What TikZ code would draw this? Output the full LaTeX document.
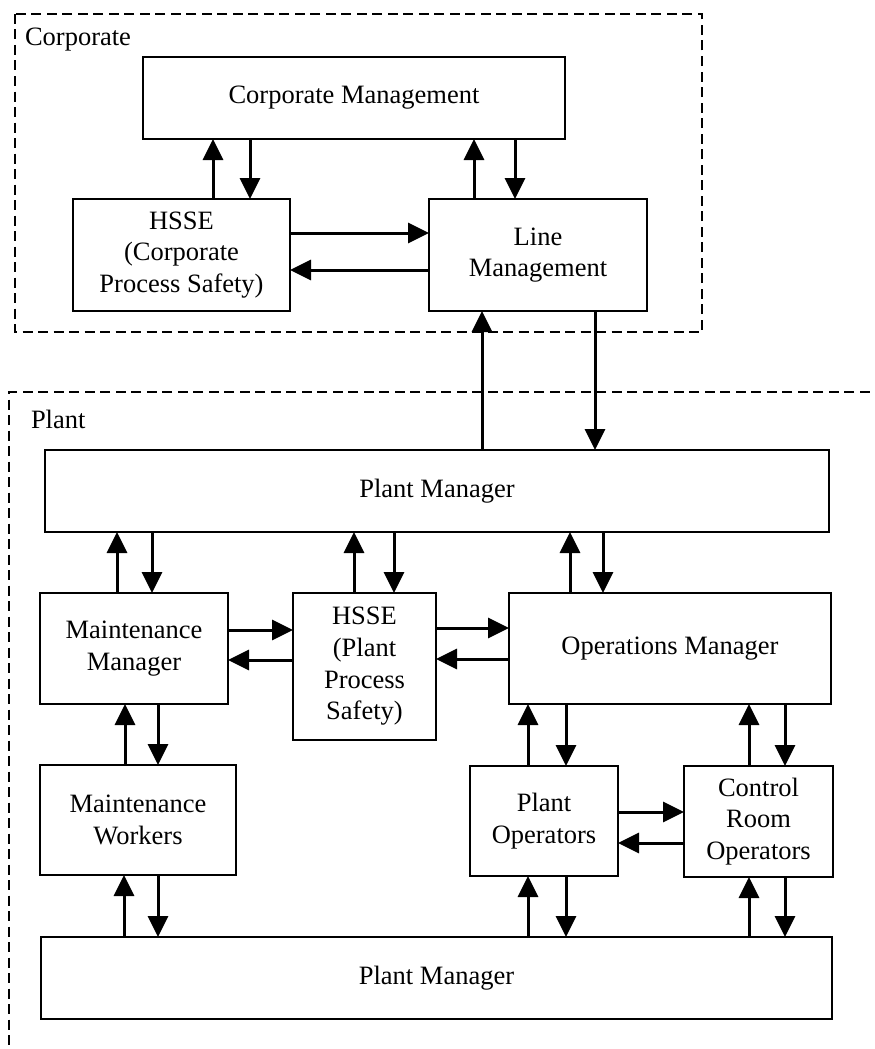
\documentclass[tikz,border=0pt]{standalone}
\usepackage{fontspec}
\setmainfont{Liberation Serif}
\usetikzlibrary{arrows.meta}
\begin{document}
\begin{tikzpicture}[x=1pt,y=-1pt,
  box/.style={draw, line width=2pt, rectangle, align=center, inner sep=0pt, outer sep=0pt,
    font=\fontsize{26.5}{31.7}\selectfont},
  lbl/.style={inner sep=0pt, outer sep=0pt, anchor=base west, font=\fontsize{26.5}{31.7}\selectfont},
  arr/.style={line width=3pt, -{Triangle[length=21pt,width=20pt]}},
  grp/.style={line width=1.7pt, dash pattern=on 10pt off 5.5pt}]
\useasboundingbox (0,0) rectangle (875,1049);
\clip (0,0) rectangle (875,1049);
% groups
\draw[grp] (15,14) rectangle (702,332);
\draw[grp] (885,392) -- (9,392) -- (9,1060);
\node[lbl] (corpl) at (25,46) {Corporate};
\node[lbl] (plantl) at (31,428) {Plant};
% boxes
\node[box, minimum width=422pt, minimum height=82pt] (cm) at (354,98) {Corporate Management};
\node[box, minimum width=217pt, minimum height=112pt] (hssec) at (181.5,255) {HSSE\\(Corporate\\Process Safety)};
\node[box, minimum width=218pt, minimum height=112pt] (lm) at (538,255) {Line\\Management};
\node[box, minimum width=784pt, minimum height=82pt] (pmt) at (437,491) {Plant Manager};
\node[box, minimum width=188pt, minimum height=111pt] (mm) at (134,648.5) {Maintenance\\Manager};
\node[box, minimum width=143pt, minimum height=147pt] (hssep) at (364.5,666.5) {HSSE\\(Plant\\Process\\Safety)};
\node[box, minimum width=322pt, minimum height=111pt] (om) at (670,648.5) {Operations Manager};
\node[box, minimum width=196pt, minimum height=110pt] (mw) at (138,820) {Maintenance\\Workers};
\node[box, minimum width=148pt, minimum height=110pt] (po) at (544,821) {Plant\\Operators};
\node[box, minimum width=149pt, minimum height=111pt] (cro) at (758.5,821.5) {Control\\Room\\Operators};
\node[box, minimum width=791pt, minimum height=82pt] (pmb) at (436.5,978) {Plant Manager};
% corporate arrows
\draw[arr] (hssec.north -| 213,0) -- (cm.south -| 213,0);
\draw[arr] (cm.south -| 250,0) -- (hssec.north -| 250,0);
\draw[arr] (lm.north -| 474,0) -- (cm.south -| 474,0);
\draw[arr] (cm.south -| 515,0) -- (lm.north -| 515,0);
\draw[arr] (hssec.east |- 0,233) -- (lm.west |- 0,233);
\draw[arr] (lm.west |- 0,270) -- (hssec.east |- 0,270);
% corporate-plant
\draw[arr] (pmt.north -| 482,0) -- (lm.south -| 482,0);
\draw[arr] (lm.south -| 595,0) -- (pmt.north -| 595,0);
% plant manager top
\draw[arr] (mm.north -| 117,0) -- (pmt.south -| 117,0);
\draw[arr] (pmt.south -| 152,0) -- (mm.north -| 152,0);
\draw[arr] (hssep.north -| 354,0) -- (pmt.south -| 354,0);
\draw[arr] (pmt.south -| 394,0) -- (hssep.north -| 394,0);
\draw[arr] (om.north -| 570,0) -- (pmt.south -| 570,0);
\draw[arr] (pmt.south -| 603,0) -- (om.north -| 603,0);
% horizontal
\draw[arr] (mm.east |- 0,630) -- (hssep.west |- 0,630);
\draw[arr] (hssep.west |- 0,660) -- (mm.east |- 0,660);
\draw[arr] (hssep.east |- 0,628) -- (om.west |- 0,628);
\draw[arr] (om.west |- 0,659) -- (hssep.east |- 0,659);
% second level
\draw[arr] (mw.north -| 125,0) -- (mm.south -| 125,0);
\draw[arr] (mm.south -| 158,0) -- (mw.north -| 158,0);
\draw[arr] (po.north -| 528,0) -- (om.south -| 528,0);
\draw[arr] (om.south -| 566,0) -- (po.north -| 566,0);
\draw[arr] (cro.north -| 749,0) -- (om.south -| 749,0);
\draw[arr] (om.south -| 785,0) -- (cro.north -| 785,0);
\draw[arr] (po.east |- 0,812) -- (cro.west |- 0,812);
\draw[arr] (cro.west |- 0,843) -- (po.east |- 0,843);
% bottom
\draw[arr] (pmb.north -| 124,0) -- (mw.south -| 124,0);
\draw[arr] (mw.south -| 158,0) -- (pmb.north -| 158,0);
\draw[arr] (pmb.north -| 528,0) -- (po.south -| 528,0);
\draw[arr] (po.south -| 566,0) -- (pmb.north -| 566,0);
\draw[arr] (pmb.north -| 749,0) -- (cro.south -| 749,0);
\draw[arr] (cro.south -| 785,0) -- (pmb.north -| 785,0);
\end{tikzpicture}
\end{document}
